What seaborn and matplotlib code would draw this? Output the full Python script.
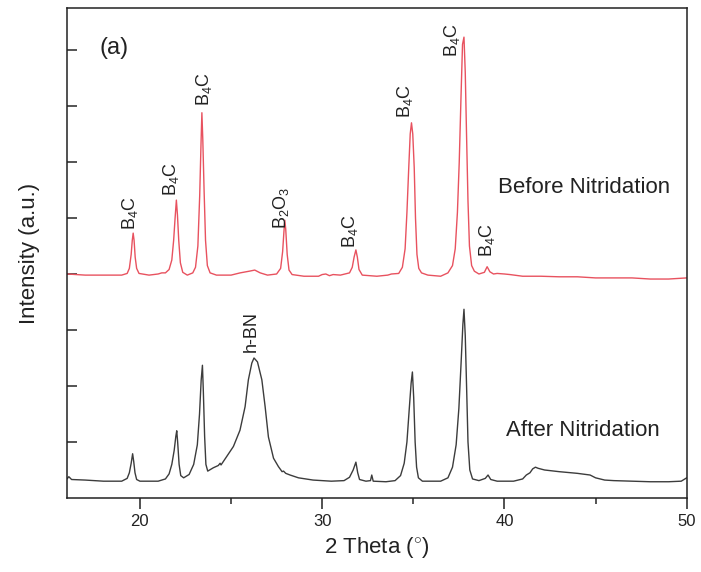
import numpy as np
import pandas as pd
import matplotlib
matplotlib.use("Agg")
import matplotlib.pyplot as plt
from matplotlib.ticker import MultipleLocator, FixedLocator
import seaborn as sns

# XRD traces (2 theta, arbitrary intensity)
before_2theta = [16.0, 16.5, 17.0, 18.0, 19.0, 19.3, 19.42, 19.52, 19.58, 19.63, 19.68, 19.74, 19.82,
                 19.95, 20.5, 21.0, 21.2, 21.4, 21.6, 21.75, 21.85, 21.93, 22.0, 22.06, 22.13,
                 22.22, 22.35, 22.6, 22.9, 23.05, 23.18, 23.28, 23.35, 23.4, 23.45, 23.52, 23.6,
                 23.7, 23.85, 24.2, 25.0, 25.5, 26.0, 26.3, 26.6, 27.0, 27.5, 27.72, 27.83, 27.9,
                 27.95, 28.0, 28.08, 28.18, 28.35, 29.0, 29.8, 30.0, 30.2, 30.4, 30.6, 31.0, 31.5,
                 31.65, 31.75, 31.85, 31.93, 32.02, 32.2, 33.0, 33.6, 33.8, 34.2, 34.4, 34.55,
                 34.65, 34.75, 34.83, 34.9, 34.97, 35.05, 35.12, 35.2, 35.3, 35.45, 35.8, 36.5,
                 36.9, 37.15, 37.3, 37.42, 37.52, 37.62, 37.7, 37.78, 37.85, 37.92, 38.0, 38.08,
                 38.2, 38.35, 38.6, 38.9, 39.05, 39.2, 39.4, 39.6, 40.0, 40.3, 41.0, 42.0, 43.0,
                 44.0, 45.0, 46.0, 47.0, 48.0, 49.0, 50.0]
before_int = [4.0, 3.99, 3.98, 3.98, 3.98, 4.01, 4.1, 4.35, 4.6, 4.73, 4.6, 4.3, 4.1,
              4.01, 3.98, 4.0, 4.02, 4.02, 4.08, 4.25, 4.6, 5.0, 5.32, 5.05, 4.6,
              4.2, 4.03, 3.98, 4.02, 4.12, 4.5, 5.4, 6.3, 6.88, 6.4, 5.5, 4.6,
              4.15, 4.02, 3.98, 3.98, 4.02, 4.05, 4.07, 4.02, 3.98, 4.0, 4.1, 4.4, 4.75,
              4.96, 4.8, 4.35, 4.07, 3.99, 3.96, 3.96, 3.99, 4.0, 3.97, 3.99, 3.98, 4.02,
              4.12, 4.3, 4.43, 4.3, 4.08, 3.98, 3.96, 3.98, 4.0, 4.01, 4.12, 4.45,
              5.1, 5.9, 6.5, 6.7, 6.5, 5.9, 5.0, 4.35, 4.1, 4.02, 3.98, 3.96,
              4.02, 4.15, 4.45, 5.1, 6.0, 7.2, 8.1, 8.23, 7.6, 6.5, 5.3, 4.5,
              4.15, 4.05, 4.0, 4.03, 4.13, 4.04, 4.0, 4.01, 4.0, 3.99, 3.96, 3.96, 3.95,
              3.95, 3.93, 3.93, 3.93, 3.91, 3.91, 3.93]

after_2theta = [16.0, 16.1, 16.25, 17.0, 18.0, 19.0, 19.3, 19.42, 19.52, 19.6, 19.66, 19.73, 19.82,
                20.0, 21.0, 21.4, 21.6, 21.75, 21.88, 21.97, 22.02, 22.07, 22.15, 22.24, 22.4,
                22.7, 22.95, 23.15, 23.27, 23.36, 23.43, 23.48, 23.55, 23.62, 23.72, 24.03, 24.3,
                24.4, 24.45, 24.76, 25.13, 25.49, 25.77, 25.95, 26.14, 26.26, 26.45, 26.69, 26.87,
                27.05, 27.33, 27.6, 27.8, 27.88, 28.0, 28.24, 28.7, 29.5, 30.5, 31.2, 31.5, 31.7,
                31.85, 31.95, 32.05, 32.4, 32.65, 32.72, 32.8, 33.5, 34.0, 34.3, 34.5, 34.65,
                34.78, 34.88, 34.95, 35.02, 35.1, 35.18, 35.28, 35.5, 36.5, 36.9, 37.15, 37.35,
                37.5, 37.62, 37.72, 37.78, 37.85, 37.93, 38.0, 38.1, 38.25, 38.6, 38.95, 39.1,
                39.25, 39.6, 40.5, 41.0, 41.2, 41.4, 41.55, 41.7, 41.85, 42.2, 43.0, 44.0, 44.7,
                45.0, 45.5, 46.0, 47.0, 48.0, 49.0, 49.7, 50.0]
after_int = [0.34, 0.38, 0.33, 0.32, 0.3, 0.3, 0.35, 0.45, 0.62, 0.79, 0.65, 0.45, 0.33,
             0.3, 0.3, 0.34, 0.43, 0.6, 0.85, 1.1, 1.2, 1.0, 0.6, 0.4, 0.36,
             0.42, 0.6, 0.95, 1.5, 2.1, 2.37, 1.9, 1.1, 0.6, 0.48, 0.54, 0.58,
             0.62, 0.59, 0.74, 0.92, 1.21, 1.63, 2.11, 2.41, 2.5, 2.43, 2.11, 1.63,
             1.09, 0.71, 0.56, 0.47, 0.48, 0.44, 0.41, 0.36, 0.32, 0.3, 0.31, 0.37, 0.5,
             0.64, 0.45, 0.33, 0.3, 0.31, 0.41, 0.3, 0.29, 0.31, 0.4, 0.62, 1.0,
             1.6, 2.05, 2.25, 1.8, 1.0, 0.55, 0.36, 0.3, 0.3, 0.36, 0.55, 0.95,
             1.6, 2.4, 3.1, 3.37, 2.9, 1.9, 1.0, 0.5, 0.34, 0.31, 0.35, 0.41,
             0.33, 0.3, 0.3, 0.34, 0.41, 0.45, 0.52, 0.55, 0.53, 0.5, 0.47, 0.44, 0.41,
             0.36, 0.32, 0.31, 0.3, 0.29, 0.29, 0.3, 0.36]

# peak labels: (text, x, y of the label's lower end)
peak_labels = ["B$_4$C", "B$_4$C", "B$_4$C", "B$_2$O$_3$", "B$_4$C", "B$_4$C", "B$_4$C", "B$_4$C", "h-BN"]
label_x = [19.45, 21.68, 23.5, 27.75, 31.55, 34.55, 37.15, 39.05, 26.1]
label_y = [4.78, 5.4, 7.0, 4.8, 4.47, 6.78, 7.88, 4.3, 2.6]

sns.set_theme(style="ticks")
plt.rcParams["font.family"] = ["Liberation Sans", "DejaVu Sans"]
plt.rcParams["mathtext.fontset"] = "custom"
plt.rcParams["mathtext.rm"] = "Liberation Sans"
plt.rcParams["mathtext.it"] = "Liberation Sans:italic"
plt.rcParams["mathtext.bf"] = "Liberation Sans:bold"

df = pd.concat([
    pd.DataFrame({"two_theta": before_2theta, "intensity": before_int, "sample": "Before"}),
    pd.DataFrame({"two_theta": after_2theta, "intensity": after_int, "sample": "After"}),
])

fig = plt.figure(figsize=(7.01, 5.72), dpi=100)
ax = fig.add_axes([0.0956, 0.1294, 0.8840, 0.8566])

sns.lineplot(data=df, x="two_theta", y="intensity", hue="sample", estimator=None, sort=False,
             palette={"Before": "#e8525f", "After": "#3c3c3c"}, linewidth=1.0, legend=False, ax=ax)

ax.set_xlim(16, 50)
ax.set_ylim(0, 8.75)
ax.xaxis.set_major_locator(FixedLocator([20, 30, 40, 50]))
ax.xaxis.set_minor_locator(MultipleLocator(5))
ax.yaxis.set_major_locator(FixedLocator(list(range(1, 9))))
ax.set_yticklabels([])
ax.tick_params(axis="x", which="major", direction="out", length=8, width=1.1,
               labelsize=12, colors="#222222", top=False)
ax.tick_params(axis="x", which="minor", direction="out", length=4, width=1.1, top=False)
ax.tick_params(axis="y", which="major", direction="in", length=7, width=1.1, right=False)
for sp in ax.spines.values():
    sp.set_visible(True)
    sp.set_linewidth(1.1)
    sp.set_color("#222222")

ax.set_xlabel("2 Theta ($^{\\circ}$)", fontsize=16, color="#222222", labelpad=4)
ax.set_ylabel("Intensity (a.u.)", fontsize=16, color="#222222", labelpad=16)

for txt, lx, ly in zip(peak_labels, label_x, label_y):
    ax.text(lx, ly, txt, rotation=90, ha="center", va="bottom", fontsize=13, color="#222222")

ax.text(39.67, 5.54, "Before Nitridation", fontsize=16, ha="left", va="center", color="#222222")
ax.text(40.1, 1.21, "After Nitridation", fontsize=16, ha="left", va="center", color="#222222")
ax.text(17.8, 8.03, "(a)", fontsize=17, ha="left", va="center", color="#222222")

fig.savefig("out.png", dpi=100)
